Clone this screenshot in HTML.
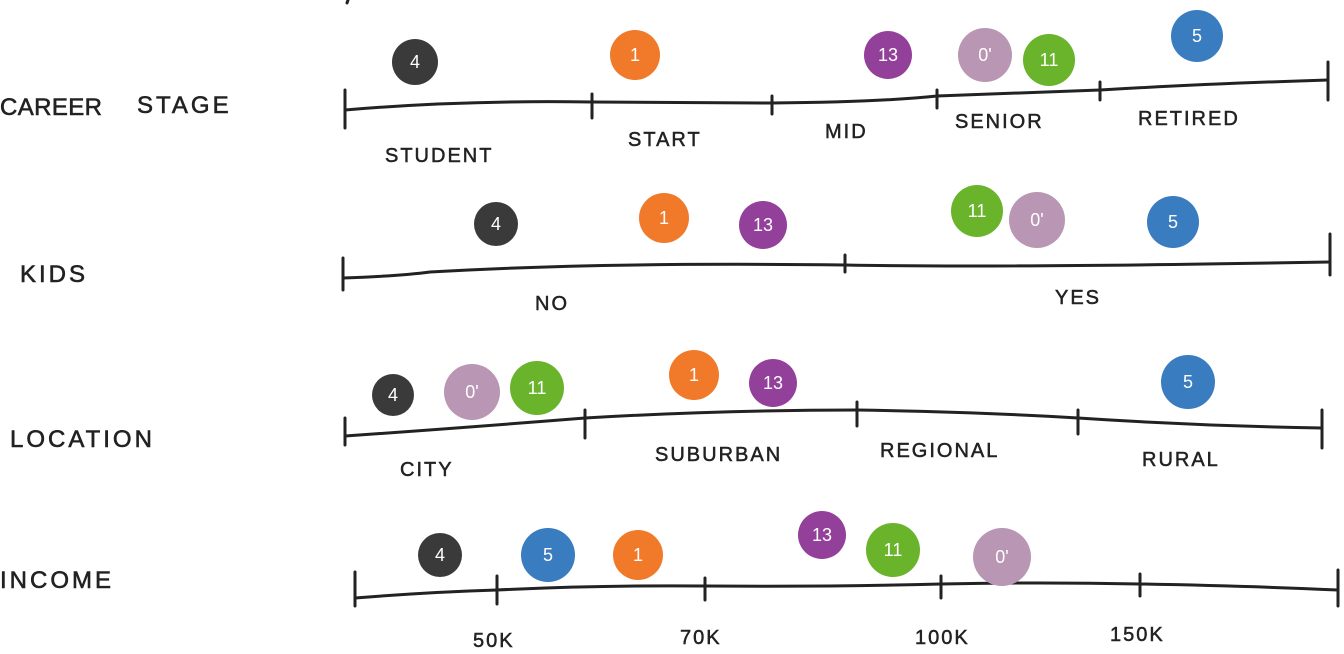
<!DOCTYPE html>
<html><head><meta charset="utf-8"><style>
html,body{margin:0;padding:0;background:#fff;}
svg{display:block}
text{font-family:"Liberation Sans",sans-serif;fill:#222;}
.lab{font-size:24px;letter-spacing:3px;stroke:#222;stroke-width:0.6}
.sm{font-size:20px;letter-spacing:2px;stroke:#222;stroke-width:0.5}
.n{font-size:18px;fill:#fff;text-anchor:middle;dominant-baseline:central;stroke:none}
line,path{stroke:#222;stroke-width:3;fill:none;stroke-linecap:round}
</style></head><body>
<svg width="1344" height="654" viewBox="0 0 1344 654" xmlns="http://www.w3.org/2000/svg">
<line x1="348" y1="0" x2="347" y2="3"/>
<!-- Row 1 -->
<text class="lab" x="0" y="115" textLength="105">CAREER</text>
<text class="lab" x="137" y="113">STAGE</text>
<path d="M345 110 Q460 100 592 102 Q700 103 772 103 Q880 102 937 96 Q1050 92 1100 90 Q1200 84 1328 80"/>
<line x1="345" y1="90" x2="345" y2="128"/><line x1="592" y1="94" x2="592" y2="118"/>
<line x1="772" y1="96" x2="772" y2="114"/><line x1="937" y1="90" x2="937" y2="108"/>
<line x1="1100" y1="82" x2="1100" y2="100"/><line x1="1328" y1="62" x2="1328" y2="100"/>
<text class="sm" x="385" y="162">STUDENT</text><text class="sm" x="628" y="146">START</text>
<text class="sm" x="825" y="138">MID</text><text class="sm" x="955" y="128">SENIOR</text>
<text class="sm" x="1138" y="125">RETIRED</text>
<circle cx="415" cy="62" r="23" fill="#3a3a3a"/><text class="n" x="415" y="62">4</text>
<circle cx="635" cy="55" r="25" fill="#f07a2a"/><text class="n" x="635" y="55">1</text>
<circle cx="888" cy="55" r="24" fill="#93409a"/><text class="n" x="888" y="55">13</text>
<circle cx="985" cy="55" r="27" fill="#b896b4"/><text class="n" x="985" y="55">0'</text>
<circle cx="1049" cy="60" r="26" fill="#6ab42c"/><text class="n" x="1049" y="60">11</text>
<circle cx="1197" cy="36" r="26" fill="#3a7cc0"/><text class="n" x="1197" y="36">5</text>
<!-- Row 2 -->
<text class="lab" x="20" y="282">KIDS</text>
<path d="M343 278 Q400 276 430 272 Q600 262 845 265 Q1000 268 1330 262"/>
<line x1="343" y1="258" x2="343" y2="290"/><line x1="845" y1="255" x2="845" y2="272"/>
<line x1="1330" y1="234" x2="1330" y2="275"/>
<text class="sm" x="535" y="310">NO</text><text class="sm" x="1055" y="304">YES</text>
<circle cx="496" cy="224" r="22" fill="#3a3a3a"/><text class="n" x="496" y="224">4</text>
<circle cx="664" cy="218" r="25" fill="#f07a2a"/><text class="n" x="664" y="218">1</text>
<circle cx="763" cy="225" r="24" fill="#93409a"/><text class="n" x="763" y="225">13</text>
<circle cx="977" cy="211" r="26" fill="#6ab42c"/><text class="n" x="977" y="211">11</text>
<circle cx="1037" cy="220" r="28" fill="#b896b4"/><text class="n" x="1037" y="220">0'</text>
<circle cx="1173" cy="222" r="26" fill="#3a7cc0"/><text class="n" x="1173" y="222">5</text>
<!-- Row 3 -->
<text class="lab" x="10" y="447">LOCATION</text>
<path d="M345 436 Q460 428 585 418 Q720 410 857 410 Q980 412 1078 418 Q1200 426 1322 428"/>
<line x1="345" y1="418" x2="345" y2="445"/><line x1="585" y1="410" x2="585" y2="438"/>
<line x1="857" y1="402" x2="857" y2="426"/><line x1="1078" y1="410" x2="1078" y2="434"/>
<line x1="1322" y1="410" x2="1322" y2="448"/>
<text class="sm" x="400" y="476">CITY</text><text class="sm" x="655" y="461">SUBURBAN</text>
<text class="sm" x="880" y="457">REGIONAL</text><text class="sm" x="1142" y="466">RURAL</text>
<circle cx="393" cy="395" r="21" fill="#3a3a3a"/><text class="n" x="393" y="395">4</text>
<circle cx="472" cy="392" r="28" fill="#b896b4"/><text class="n" x="472" y="392">0'</text>
<circle cx="537" cy="388" r="27" fill="#6ab42c"/><text class="n" x="537" y="388">11</text>
<circle cx="694" cy="375" r="25" fill="#f07a2a"/><text class="n" x="694" y="375">1</text>
<circle cx="773" cy="383" r="24" fill="#93409a"/><text class="n" x="773" y="383">13</text>
<circle cx="1188" cy="382" r="27" fill="#3a7cc0"/><text class="n" x="1188" y="382">5</text>
<!-- Row 4 -->
<text class="lab" x="0" y="588">INCOME</text>
<path d="M355 598 Q430 592 497 590 Q600 585 705 586 Q830 587 941 584 Q1040 582 1140 584 Q1250 586 1338 590"/>
<line x1="355" y1="572" x2="355" y2="606"/><line x1="497" y1="576" x2="497" y2="604"/>
<line x1="705" y1="578" x2="705" y2="600"/><line x1="941" y1="576" x2="941" y2="598"/>
<line x1="1140" y1="574" x2="1140" y2="596"/><line x1="1338" y1="570" x2="1338" y2="606"/>
<text class="sm" x="473" y="647">50K</text><text class="sm" x="680" y="644">70K</text>
<text class="sm" x="915" y="644">100K</text><text class="sm" x="1110" y="641">150K</text>
<circle cx="440" cy="555" r="22" fill="#3a3a3a"/><text class="n" x="440" y="555">4</text>
<circle cx="548" cy="555" r="27" fill="#3a7cc0"/><text class="n" x="548" y="555">5</text>
<circle cx="638" cy="555" r="25" fill="#f07a2a"/><text class="n" x="638" y="555">1</text>
<circle cx="822" cy="535" r="24" fill="#93409a"/><text class="n" x="822" y="535">13</text>
<circle cx="893" cy="550" r="27" fill="#6ab42c"/><text class="n" x="893" y="550">11</text>
<circle cx="1002" cy="557" r="29" fill="#b896b4"/><text class="n" x="1002" y="557">0'</text>
</svg>
</body></html>
